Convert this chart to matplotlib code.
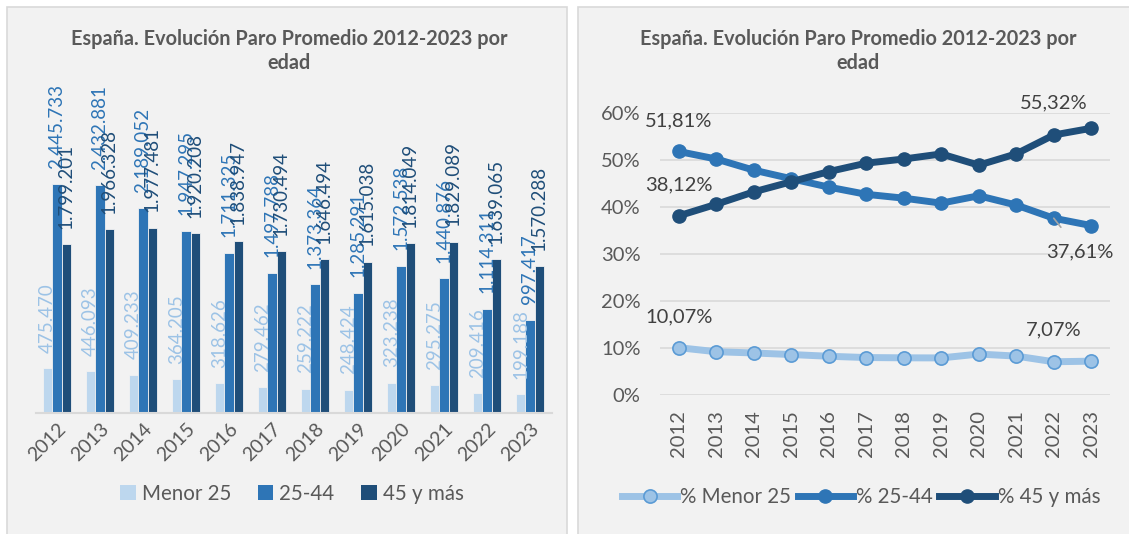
import matplotlib
matplotlib.use("Agg")
import matplotlib.pyplot as plt
from matplotlib.patches import Rectangle, Patch
from matplotlib.lines import Line2D

plt.rcParams['font.family'] = ['Lato', 'DejaVu Sans']

years = ['2012', '2013', '2014', '2015', '2016', '2017', '2018', '2019', '2020', '2021', '2022', '2023']
menor25 = [475470, 446093, 409233, 364205, 318626, 279462, 259222, 248424, 323238, 295275, 209416, 199188]
edad25_44 = [2445733, 2432881, 2189052, 1947295, 1711325, 1497788, 1373364, 1285291, 1572538, 1440876, 1114311, 997417]
edad45 = [1799201, 1966328, 1977481, 1920208, 1838947, 1730494, 1646494, 1615038, 1814049, 1829089, 1639065, 1570288]

pct_menor25 = [10.07, 9.21, 8.94, 8.61, 8.24, 7.97, 7.91, 7.89, 8.71, 8.28, 7.07, 7.20]
pct_25_44 = [51.81, 50.21, 47.84, 46.02, 44.23, 42.70, 41.88, 40.82, 42.39, 40.41, 37.61, 36.05]
pct_45 = [38.12, 40.58, 43.22, 45.37, 47.53, 49.33, 50.21, 51.29, 48.90, 51.31, 55.32, 56.75]

bar_names = ['Menor 25', '25-44', '45 y más']
line_names = ['% Menor 25', '% 25-44', '% 45 y más']
title = 'España. Evolución Paro Promedio 2012-2023 por\nedad'

W, H = 1129, 534
fig = plt.figure(figsize=(W / 100, H / 100), dpi=100)
fig.patch.set_facecolor('white')

def fx(px):
    return px / W

def fy(py):
    return 1 - py / H

# panels
fig.add_artist(Rectangle((fx(7), fy(540)), fx(560), (540 - 7) / H, transform=fig.transFigure,
                         facecolor='#f2f2f2', edgecolor='#d9d9d9', lw=1.2, zorder=0))
fig.add_artist(Rectangle((fx(578), fy(540)), fx(560), (540 - 7) / H, transform=fig.transFigure,
                         facecolor='#f2f2f2', edgecolor='#d9d9d9', lw=1.2, zorder=0))

txt_col = '#595959'
c_light = '#bdd7ee'
c_mid = '#2e75b6'
c_dark = '#1f4e79'
lbl_light = '#9dc3e6'

# ---------------- left bar chart ----------------
axL = fig.add_axes([fx(35.5), fy(413), fx(516), (413 - 132) / H])
axL.set_facecolor('none')
x = list(range(len(years)))
bw = 0.21
off = 0.215
series = [(menor25, c_light, lbl_light, -off), (edad25_44, c_mid, c_mid, 0), (edad45, c_dark, c_dark, off)]
for (vals, col, lcol, o), name in zip(series, bar_names):
    xs = [i + o for i in x]
    axL.bar(xs, vals, width=bw, color=col, edgecolor='#f2f2f2', linewidth=0.6, label=name, zorder=2)
    for xi, v in zip(xs, vals):
        axL.annotate(f"{v:,}".replace(',', '.'), (xi, v), xytext=(0, 11), textcoords='offset points',
                     rotation=90, ha='center', va='bottom', color=lcol, fontsize=13.5,
                     annotation_clip=False, zorder=3)
axL.set_xlim(-0.5, 11.5)
axL.set_ylim(0, 3000000)
axL.set_yticks([])
for s in ['left', 'right', 'top']:
    axL.spines[s].set_visible(False)
axL.spines['bottom'].set_color('#d9d9d9')
axL.spines['bottom'].set_linewidth(1.5)
axL.set_xticks(x)
axL.set_xticklabels(years, rotation=45, ha='right', va='top', rotation_mode='anchor',
                    fontsize=14, color=txt_col)
axL.tick_params(axis='x', length=0, pad=5)

handlesL = [Patch(facecolor=c, edgecolor='none') for c in (c_light, c_mid, c_dark)]
fig.legend(handlesL, bar_names, loc='center', bbox_to_anchor=(fx(292), fy(494)), ncol=3,
           frameon=False, fontsize=14.8, labelcolor=txt_col, handlelength=0.75, handleheight=0.75,
           handletextpad=0.3, columnspacing=1.3)

fig.text(fx(289), fy(51), title, ha='center', va='center', fontsize=14.3, fontweight='bold',
         color=txt_col, linespacing=1.3)

# ---------------- right line chart ----------------
axR = fig.add_axes([fx(660), fy(395), fx(450), (395 - 113) / H])
axR.set_facecolor('none')
axR.set_xlim(-0.5, 11.5)
axR.set_ylim(0, 60)
axR.set_yticks([0, 10, 20, 30, 40, 50, 60])
axR.set_yticklabels([f"{v}%" for v in [0, 10, 20, 30, 40, 50, 60]], fontsize=14.5, color=txt_col)
axR.grid(axis='y', color='#d9d9d9', lw=1.2, zorder=0)
axR.set_axisbelow(True)
for s in ['left', 'right', 'top', 'bottom']:
    axR.spines[s].set_visible(False)
axR.tick_params(axis='y', length=0, pad=14)
axR.set_xticks(x)
axR.set_xticklabels(years, rotation=90, fontsize=14.5, color=txt_col)
axR.tick_params(axis='x', length=0, pad=11)

lw = 5
ms = 9.5
axR.plot(x, pct_menor25, color='#9dc3e6', lw=lw, marker='o', ms=ms, mfc='#9dc3e6', mec='#5b9bd5',
         mew=1.2, label=line_names[0], zorder=3, solid_capstyle='round')
axR.plot(x, pct_25_44, color=c_mid, lw=lw, marker='o', ms=ms, mfc=c_mid, mec=c_mid,
         label=line_names[1], zorder=3, solid_capstyle='round')
axR.plot(x, pct_45, color=c_dark, lw=lw, marker='o', ms=ms, mfc=c_dark, mec=c_dark,
         label=line_names[2], zorder=4, solid_capstyle='round')

lab_col = '#404040'
def pfmt(v):
    return f"{v:.2f}%".replace('.', ',')

for vals in (pct_menor25, pct_25_44, pct_45):
    axR.annotate(pfmt(vals[0]), (0, vals[0]), xytext=(0, 22), textcoords='offset points',
                 ha='center', va='center', fontsize=14.5, color=lab_col, annotation_clip=False)
for vals in (pct_menor25, pct_45):
    axR.annotate(pfmt(vals[10]), (10, vals[10]), xytext=(0, 23), textcoords='offset points',
                 ha='center', va='center', fontsize=14.5, color=lab_col, annotation_clip=False)
axR.annotate(pfmt(pct_25_44[10]), (10, pct_25_44[10]), xytext=(19, -24), textcoords='offset points',
             ha='center', va='center', fontsize=14.5, color=lab_col, annotation_clip=False,
             arrowprops=dict(arrowstyle='-', color='#a6a6a6', lw=1.2, shrinkA=12, shrinkB=0))

handlesR = [Line2D([0], [0], color='#9dc3e6', lw=lw, marker='o', ms=ms, mfc='#9dc3e6', mec='#5b9bd5', mew=1.2),
            Line2D([0], [0], color=c_mid, lw=lw, marker='o', ms=ms, mfc=c_mid, mec=c_mid),
            Line2D([0], [0], color=c_dark, lw=lw, marker='o', ms=ms, mfc=c_dark, mec=c_dark)]
fig.legend(handlesR, line_names, loc='center', bbox_to_anchor=(fx(861), fy(497)), ncol=3,
           frameon=False, fontsize=14.8, labelcolor=txt_col, handlelength=2.7,
           handletextpad=0.15, columnspacing=0.3)

fig.text(fx(858), fy(51), title, ha='center', va='center', fontsize=14.3, fontweight='bold',
         color=txt_col, linespacing=1.3)

fig.savefig('out.png', dpi=100, facecolor=fig.get_facecolor())
